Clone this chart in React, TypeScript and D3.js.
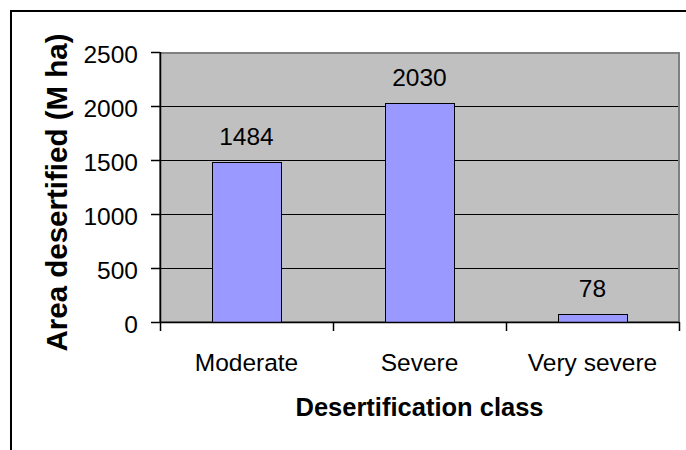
// App.tsx > DesertChart (bar chart, d3 drawn through a ref)

// react
import React, {useRef, useEffect} from 'react';

// modules
import * as d3 from 'd3';

// data
const categories = ['Moderate', 'Severe', 'Very severe'];
const areaValues = [1484, 2030, 78];
const yTickValues = [0, 500, 1000, 1500, 2000, 2500];
const xTitle = 'Desertification class';
const yTitle = 'Area desertified (M ha)';

// layout
const svgWidth = 686;
const svgHeight = 450;
const plot = {left: 160, right: 679, top: 52, bottom: 322};
const fontFam = '"Liberation Sans", Arial, Helvetica, sans-serif';

export default function App() {
    const svgRef = useRef<SVGSVGElement | null>(null);

    useEffect(() => {
        const svg = d3.select(svgRef.current);
        svg.selectAll('*').remove();

        // scales
        const xScale = d3.scaleBand<string>()
            .domain(categories)
            .range([plot.left, plot.right])
            .paddingInner(0.6)
            .paddingOuter(0.3);
        const catScale = d3.scaleBand<string>()
            .domain(categories)
            .range([plot.left, plot.right]);
        const yScale = d3.scaleLinear()
            .domain([0, 2500])
            .range([plot.bottom, plot.top]);
        const crisp = (v: number) => Math.round(v) + 0.5;

        // background + outer frame
        svg.append('rect')
            .attr('width', svgWidth).attr('height', svgHeight)
            .attr('fill', '#ffffff');
        svg.append('rect')
            .attr('x', 11).attr('y', 11)
            .attr('width', 720).attr('height', 520)
            .attr('fill', 'none')
            .attr('stroke', '#000').attr('stroke-width', 2);

        // plot area
        svg.append('rect')
            .attr('x', plot.left).attr('y', plot.top)
            .attr('width', plot.right - plot.left)
            .attr('height', plot.bottom - plot.top)
            .attr('fill', '#c0c0c0');

        // gridlines
        svg.append('g')
            .selectAll('line')
            .data(yTickValues.filter((d) => d > 0 && d < 2500))
            .enter()
            .append('line')
            .attr('x1', plot.left).attr('x2', plot.right)
            .attr('y1', (d) => crisp(yScale(d)))
            .attr('y2', (d) => crisp(yScale(d)))
            .attr('stroke', '#000').attr('stroke-width', 1);

        // plot border (gray)
        svg.append('rect')
            .attr('x', plot.left).attr('y', plot.top + 1)
            .attr('width', plot.right - plot.left)
            .attr('height', plot.bottom - plot.top - 1)
            .attr('fill', 'none')
            .attr('stroke', '#808080').attr('stroke-width', 2);

        // bars
        svg.append('g')
            .selectAll('rect')
            .data(areaValues)
            .enter()
            .append('rect')
            .attr('x', (d, i) => Math.round(xScale(categories[i]) as number) + 0.5)
            .attr('y', (d) => Math.round(yScale(d)) + 0.5)
            .attr('width', Math.round(xScale.bandwidth()))
            .attr('height', (d) => Math.round(plot.bottom) - Math.round(yScale(d)))
            .attr('fill', '#9999ff')
            .attr('stroke', '#000').attr('stroke-width', 1);

        // value labels
        svg.append('g')
            .selectAll('text')
            .data(areaValues)
            .enter()
            .append('text')
            .attr('x', (d, i) => (xScale(categories[i]) as number) + xScale.bandwidth() / 2)
            .attr('y', (d) => yScale(d) - 17)
            .attr('text-anchor', 'middle')
            .attr('font-family', fontFam)
            .attr('font-size', 24.5)
            .attr('fill', '#000')
            .text((d) => d);

        // axes lines
        svg.append('line')
            .attr('x1', crisp(plot.left)).attr('x2', crisp(plot.left))
            .attr('y1', plot.top).attr('y2', plot.bottom + 1)
            .attr('stroke', '#000').attr('stroke-width', 1.5);
        svg.append('line')
            .attr('x1', plot.left).attr('x2', plot.right + 1)
            .attr('y1', crisp(plot.bottom)).attr('y2', crisp(plot.bottom))
            .attr('stroke', '#000').attr('stroke-width', 1.5);

        // y ticks + labels
        const yAxis = svg.append('g');
        yAxis.selectAll('line')
            .data(yTickValues)
            .enter()
            .append('line')
            .attr('x1', plot.left - 9).attr('x2', plot.left)
            .attr('y1', (d) => crisp(yScale(d)))
            .attr('y2', (d) => crisp(yScale(d)))
            .attr('stroke', '#000').attr('stroke-width', 1.5);
        yAxis.selectAll('text')
            .data(yTickValues)
            .enter()
            .append('text')
            .attr('x', 138)
            .attr('y', (d) => yScale(d) + 10.5)
            .attr('text-anchor', 'end')
            .attr('font-family', fontFam)
            .attr('font-size', 24.5)
            .attr('fill', '#000')
            .text((d) => d);

        // x ticks (category boundaries) + labels
        const xTicks = categories.map((c) => catScale(c) as number).concat([plot.right]);
        const xAxis = svg.append('g');
        xAxis.selectAll('line')
            .data(xTicks)
            .enter()
            .append('line')
            .attr('x1', (d) => crisp(d)).attr('x2', (d) => crisp(d))
            .attr('y1', plot.bottom).attr('y2', plot.bottom + 9)
            .attr('stroke', '#000').attr('stroke-width', 1.5);
        xAxis.selectAll('text')
            .data(categories)
            .enter()
            .append('text')
            .attr('x', (d) => (catScale(d) as number) + catScale.bandwidth() / 2)
            .attr('y', 371)
            .attr('text-anchor', 'middle')
            .attr('font-family', fontFam)
            .attr('font-size', 24.5)
            .attr('fill', '#000')
            .text((d) => d);

        // titles
        svg.append('text')
            .attr('x', (plot.left + plot.right) / 2)
            .attr('y', 416)
            .attr('text-anchor', 'middle')
            .attr('font-family', fontFam)
            .attr('font-size', 25.5)
            .attr('font-weight', 'bold')
            .text(xTitle);
        svg.append('text')
            .attr('transform', `translate(67, 192.5) rotate(-90)`)
            .attr('text-anchor', 'middle')
            .attr('font-family', fontFam)
            .attr('font-size', 29.5)
            .attr('font-weight', 'bold')
            .text(yTitle);
    }, []);

    return (
        <svg
            ref={svgRef}
            width={svgWidth}
            height={svgHeight}
            style={{position: 'absolute', left: 0, top: 0, display: 'block'}}
        />
    );
}
